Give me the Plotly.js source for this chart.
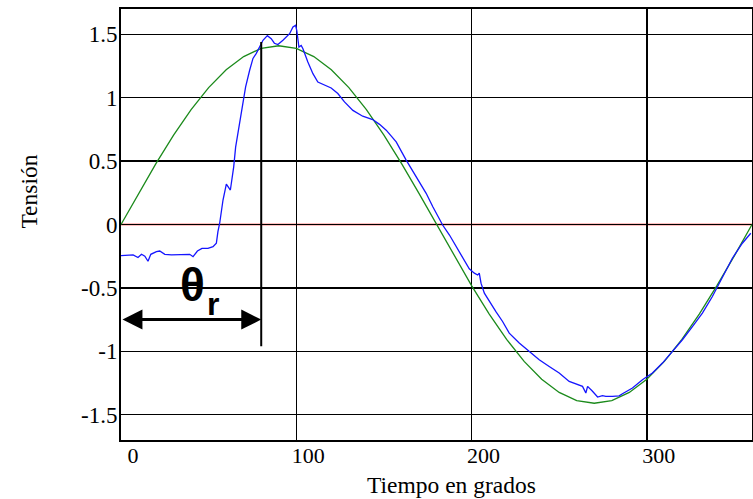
<!DOCTYPE html>
<html>
<head>
<meta charset="utf-8">
<script src="https://cdn.plot.ly/plotly-3.0.1.min.js"></script>
<style>
  html, body { margin: 0; padding: 0; background: #fff; }
  #chart { width: 753px; height: 499px; }
</style>
</head>
<body>
<div id="chart"></div>
<script>
// Measured line voltage (blue): flat negative offset, then a steep rise after the firing angle
const measuredDeg = [0, 3, 6.9, 9.7, 11.7, 13.6, 15.4, 17, 20.2, 22.1, 25, 28.8, 34.5, 39.2, 41.1, 43.6,
  46.2, 49.6, 52.5, 54.4, 55.3, 56.3, 58.2, 60.1, 62.4, 64.3, 65.4, 67.3, 69.2, 71.1, 73.4, 75.3,
  77.2, 79.1, 81, 83.5, 85.7, 87.5, 89.5, 92.4, 96.2, 98.1, 99.6, 100.3, 101.5, 102.8, 103.8, 106.6,
  109.5, 112.3, 116.1, 119.9, 123.7, 127.5, 132.3, 137.9, 143.6, 147.5, 151.3, 157, 162.7, 168.4,
  174.1, 177.9, 181.7, 183.5, 187.4, 191.2, 194.9, 198.7, 201.6, 203.5, 204.4, 205.4, 207.3, 210.1,
  213.9, 217.7, 221.5, 227.2, 232.9, 238.6, 244.3, 250, 255.7, 261.4, 263.3, 265.2, 266.2, 269,
  271.9, 274.7, 276.6, 280.4, 284.2, 286.1, 291.8, 297.5, 303.2, 308.9, 314.6, 320.3, 326, 331.7,
  337.4, 343.1, 348.8, 354.5, 359.3];
const measuredV = [-0.246, -0.245, -0.24, -0.26, -0.235, -0.25, -0.29, -0.235, -0.214, -0.209, -0.235,
  -0.24, -0.24, -0.235, -0.254, -0.209, -0.188, -0.188, -0.175, -0.148, -0.057, 0.01, 0.193, 0.319,
  0.272, 0.455, 0.61, 0.77, 0.93, 1.085, 1.217, 1.31, 1.35, 1.4, 1.453, 1.49, 1.466, 1.43, 1.419,
  1.453, 1.505, 1.558, 1.571, 1.53, 1.4, 1.413, 1.387, 1.282, 1.19, 1.124, 1.098, 1.077, 1.033, 0.967,
  0.9, 0.854, 0.828, 0.79, 0.744, 0.652, 0.508, 0.376, 0.246, 0.14, 0.035, -0.004, -0.083, -0.175,
  -0.254, -0.35, -0.384, -0.398, -0.384, -0.463, -0.542, -0.608, -0.687, -0.765, -0.857, -0.935,
  -1.001, -1.067, -1.12, -1.172, -1.238, -1.269, -1.277, -1.329, -1.277, -1.316, -1.361, -1.35,
  -1.356, -1.356, -1.352, -1.335, -1.29, -1.224, -1.172, -1.093, -1.001, -0.909, -0.805, -0.699,
  -0.568, -0.411, -0.266, -0.148, -0.069];

// Reference sine (green), sampled every 10 degrees
const referenceDeg = [0, 10, 20, 30, 40, 50, 60, 70, 80, 90, 100, 110, 120, 130, 140, 150, 160, 170, 180,
  190, 200, 210, 220, 230, 240, 250, 260, 270, 280, 290, 300, 310, 320, 330, 340, 350, 360];
const referenceV = [0, 0.245, 0.482, 0.705, 0.906, 1.08, 1.221, 1.325, 1.389, 1.41, 1.389, 1.325, 1.221,
  1.08, 0.906, 0.705, 0.482, 0.245, 0, -0.245, -0.482, -0.705, -0.906, -1.08, -1.221, -1.325, -1.389,
  -1.41, -1.389, -1.325, -1.221, -1.08, -0.906, -0.705, -0.482, -0.245, 0];

// Firing angle marker
const thetaR = 80;
const markerTop = 1.44;
const markerBottom = -0.96;
const arrowLevel = -0.75;

// Axis ticks
const xTickVals = [0, 100, 200, 300];
const xTickText = ['0', '100', '200', '300'];
const yTickVals = [-1.5, -1, -0.5, 0, 0.5, 1, 1.5];
const yTickText = ['-1.5', '-1', '-0.5', '0', '0.5', '1', '1.5'];

const serif = 'Liberation Serif';
const sans = 'Liberation Sans';

const traces = [
  {
    x: referenceDeg, y: referenceV, type: 'scatter', mode: 'lines',
    line: { color: '#1b8a1b', width: 1.3 }, hoverinfo: 'skip'
  },
  {
    x: measuredDeg, y: measuredV, type: 'scatter', mode: 'lines',
    line: { color: '#1515ff', width: 1.3 }, hoverinfo: 'skip'
  }
];

const layout = {
  width: 753, height: 499,
  margin: { l: 121, r: 1, t: 9, b: 59, pad: 0 },
  paper_bgcolor: '#fff', plot_bgcolor: '#fff',
  showlegend: false,
  font: { family: serif, size: 22, color: '#000' },
  xaxis: {
    range: [0, 360], tickmode: 'array', tickvals: xTickVals, ticktext: xTickText,
    showgrid: true, gridcolor: '#000', gridwidth: 1.5,
    showline: true, linecolor: '#000', linewidth: 2, mirror: true,
    zeroline: false, ticks: '',
    tickfont: { family: serif, size: 22, color: '#000' },
    ticklabelshift: 12, ticklabelstandoff: -5
  },
  yaxis: {
    range: [-1.7, 1.7], tickmode: 'array', tickvals: yTickVals, ticktext: yTickText,
    showgrid: true, gridcolor: '#000', gridwidth: 1.5,
    showline: true, linecolor: '#000', linewidth: 2, mirror: true,
    zeroline: false, ticks: '',
    tickfont: { family: serif, size: 23, color: '#000' },
    ticklabelstandoff: -3
  },
  shapes: [
    // zero line
    { type: 'line', xref: 'paper', yref: 'y', x0: 0, x1: 1, y0: 0, y1: 0,
      line: { color: '#ff0000', width: 1.5 }, layer: 'below' },
    // firing angle marker
    { type: 'line', xref: 'x', yref: 'y', x0: thetaR, x1: thetaR, y0: markerBottom, y1: markerTop,
      line: { color: '#000', width: 2 } }
  ],
  annotations: [
    { xref: 'x', yref: 'y', axref: 'x', ayref: 'y', x: thetaR, y: arrowLevel, ax: 0, ay: arrowLevel,
      text: '', showarrow: true, arrowside: 'end+start', arrowhead: 2, startarrowhead: 2,
      arrowwidth: 3, arrowsize: 1.33, startarrowsize: 1.33, arrowcolor: '#000', standoff: 0, startstandoff: 0 },
    { xref: 'x', yref: 'y', x: 40.8, y: -0.476, text: '<b>θ</b>', showarrow: false,
      font: { family: sans, size: 46, color: '#000' }, xanchor: 'center', yanchor: 'middle' },
    { xref: 'x', yref: 'y', x: 52.6, y: -0.625, text: '<b>r</b>', showarrow: false,
      font: { family: sans, size: 32, color: '#000' }, xanchor: 'center', yanchor: 'middle' },
    { xref: 'paper', yref: 'paper', x: 0.523, y: -0.104, text: 'Tiempo en grados', showarrow: false,
      font: { family: serif, size: 23.5, color: '#000' }, xanchor: 'center', yanchor: 'middle' },
    { xref: 'paper', yref: 'paper', x: -0.146, y: 0.576, text: 'Tensión', showarrow: false, textangle: -90,
      font: { family: serif, size: 23.5, color: '#000' }, xanchor: 'center', yanchor: 'middle' }
  ]
};

Plotly.newPlot('chart', traces, layout, { staticPlot: true, displayModeBar: false });
</script>
</body>
</html>
